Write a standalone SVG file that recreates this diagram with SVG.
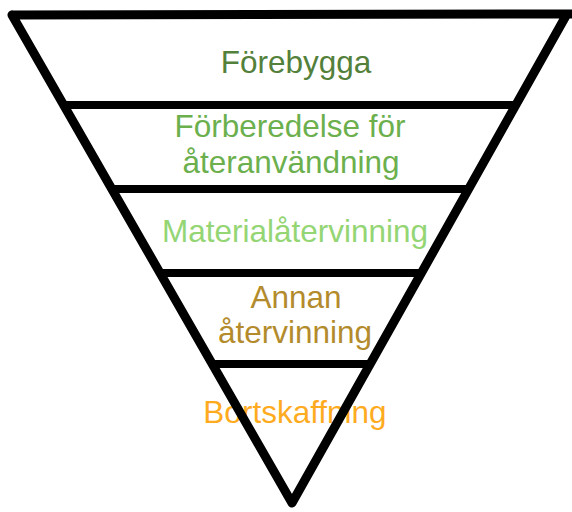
<svg xmlns="http://www.w3.org/2000/svg" width="572" height="512" viewBox="0 0 572 512">
  <style>
    .lbl { font-family: "Liberation Sans", Arial, Helvetica, sans-serif; font-size: 31.5px; text-anchor: middle; }
    .edge { fill: none; stroke: #000; stroke-width: 9; stroke-linejoin: round; stroke-linecap: round; }
    .tier { stroke: #000; stroke-width: 8; }
  </style>
  <rect width="572" height="512" fill="#fff"/>

  <!-- tier labels, top to bottom -->
  <g id="tier-forebygga">
    <text class="lbl" x="296" y="73" fill="#53803a">Förebygga</text>
  </g>
  <g id="tier-forberedelse">
    <text class="lbl" x="290" y="137" fill="#6cb04e">Förberedelse för</text>
    <text class="lbl" x="291" y="173" fill="#6cb04e">återanvändning</text>
  </g>
  <g id="tier-material">
    <text class="lbl" x="295" y="242" fill="#94d574">Materialåtervinning</text>
  </g>
  <g id="tier-annan">
    <text class="lbl" x="296" y="308" fill="#b38b2c">Annan</text>
    <text class="lbl" x="295" y="343" fill="#b38b2c">återvinning</text>
  </g>
  <g id="tier-bortskaffning">
    <text class="lbl" x="295" y="423" fill="#ffab1f">Bortskaffning</text>
  </g>

  <!-- funnel outline and tier dividers -->
  <g id="connectors">
    <line class="tier" x1="61" y1="105" x2="518" y2="105"/>
    <line class="tier" x1="109" y1="189" x2="471" y2="189"/>
    <line class="tier" x1="158" y1="273" x2="423" y2="273"/>
    <line class="tier" x1="210" y1="364" x2="372" y2="364"/>
    <path class="edge" d="M 12 15 L 572 14 M 567 14 L 292 503 L 12 15"/>
  </g>
</svg>
